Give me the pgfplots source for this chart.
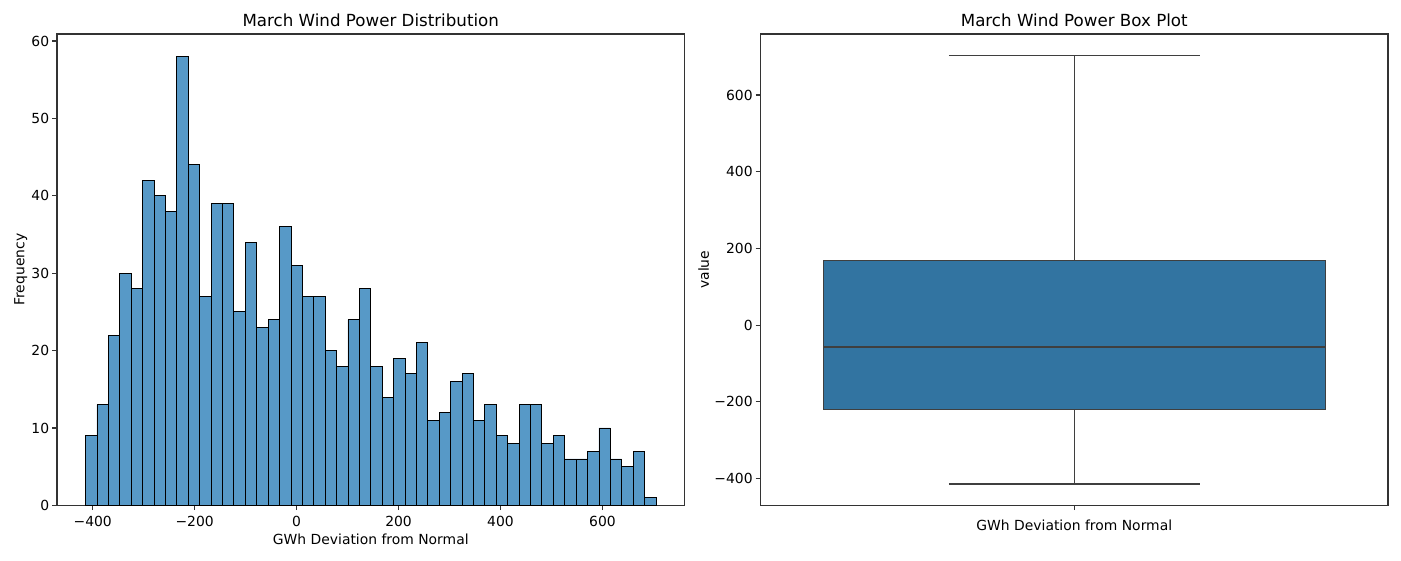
\documentclass[border=0pt]{standalone}
\usepackage{fontspec}
\setmainfont{DejaVu Sans}
\usepackage{pgfplots}
\pgfplotsset{compat=1.18}
\definecolor{histfill}{HTML}{5799C7}
\definecolor{boxfill}{HTML}{3274A1}
\definecolor{boxedge}{HTML}{3F3F3F}
\pgfplotsset{
  common/.style={
    scale only axis,
    width=451.44pt, height=339.12pt,
    anchor=south west,
    axis line style={black!80, line width=0.8pt},
    tick align=outside,
    major tick length=3.5pt,
    tick style={black!80, line width=0.8pt},
    xtick pos=left, ytick pos=left,
    ticklabel style={font=\fontsize{10}{12}\selectfont},
    yticklabel style={inner sep=0pt, anchor=east, xshift=-2pt},
    label style={font=\fontsize{10}{12}\selectfont},
    every axis title shift=0pt,
    title style={font=\fontsize{12}{14}\selectfont, at={(axis description cs:0.5,1)}, anchor=south, inner sep=0pt, yshift=5pt},
  }
}
\begin{document}
\begin{tikzpicture}
\path[use as bounding box] (0,0) rectangle (1008pt,403.2pt);
\begin{axis}[common,
  at={(41.04pt,39.6pt)},
  xmin=-470, xmax=761, ymin=0, ymax=60.9,
  xtick={-400,-200,0,200,400,600},
  xticklabels={−400,−200,0,200,400,600},
  ytick={0,10,20,30,40,50,60},
  yticklabels={0,10,20,30,40,50,60},
  xticklabel style={inner sep=0pt, anchor=north, yshift=-4.35pt},
  title={March Wind Power Distribution},
  xlabel={GWh Deviation from Normal},
  ylabel={Frequency},
  xlabel style={at={(axis description cs:0.5,-0.0722)}, anchor=center, inner sep=0pt},
  ylabel style={at={(axis description cs:-0.0578,0.5)}, anchor=center, inner sep=0pt},
]
\addplot[ybar interval, fill=histfill, draw=black, line width=0.6pt] coordinates {
(-414,9) (-391.62,13) (-369.24,22) (-346.86,30) (-324.48,28)
(-302.1,42) (-279.72,40) (-257.34,38) (-234.96,58) (-212.58,44)
(-190.2,27) (-167.82,39) (-145.44,39) (-123.06,25) (-100.68,34)
(-78.3,23) (-55.92,24) (-33.54,36) (-11.16,31) (11.22,27)
(33.6,27) (55.98,20) (78.36,18) (100.74,24) (123.12,28)
(145.5,18) (167.88,14) (190.26,19) (212.64,17) (235.02,21)
(257.4,11) (279.78,12) (302.16,16) (324.54,17) (346.92,11)
(369.3,13) (391.68,9) (414.06,8) (436.44,13) (458.82,13)
(481.2,8) (503.58,9) (525.96,6) (548.34,6) (570.72,7)
(593.1,10) (615.48,6) (637.86,5) (660.24,7) (682.62,1)
(705,0)
};
\end{axis}
\begin{axis}[common,
  at={(547.2pt,39.6pt)},
  xmin=-0.5, xmax=0.5, ymin=-470, ymax=759,
  xtick={0},
  xticklabels={GWh Deviation from Normal},
  xticklabel style={inner sep=0pt, anchor=north, yshift=-7.1pt},
  ytick={-400,-200,0,200,400,600},
  yticklabels={−400,−200,0,200,400,600},
  title={March Wind Power Box Plot},
  ylabel={value},
  ylabel style={at={(axis description cs:-0.0908,0.5)}, anchor=center, inner sep=0pt},
]
% box (Q1 = -221, Q3 = 169)
\addplot[fill=boxfill, draw=boxedge, line width=0.9pt] coordinates {(-0.4,-221) (0.4,-221) (0.4,169) (-0.4,169)} -- cycle;
% median
\addplot[draw=boxedge, line width=1.2pt] coordinates {(-0.4,-57) (0.4,-57)};
% whiskers
\addplot[draw=boxedge, line width=0.9pt] coordinates {(0,169) (0,703)};
\addplot[draw=boxedge, line width=0.9pt] coordinates {(0,-221) (0,-414)};
% caps
\addplot[draw=boxedge, line width=0.9pt] coordinates {(-0.2,703) (0.2,703)};
\addplot[draw=boxedge, line width=0.9pt] coordinates {(-0.2,-414) (0.2,-414)};
\end{axis}
\end{tikzpicture}
\end{document}
